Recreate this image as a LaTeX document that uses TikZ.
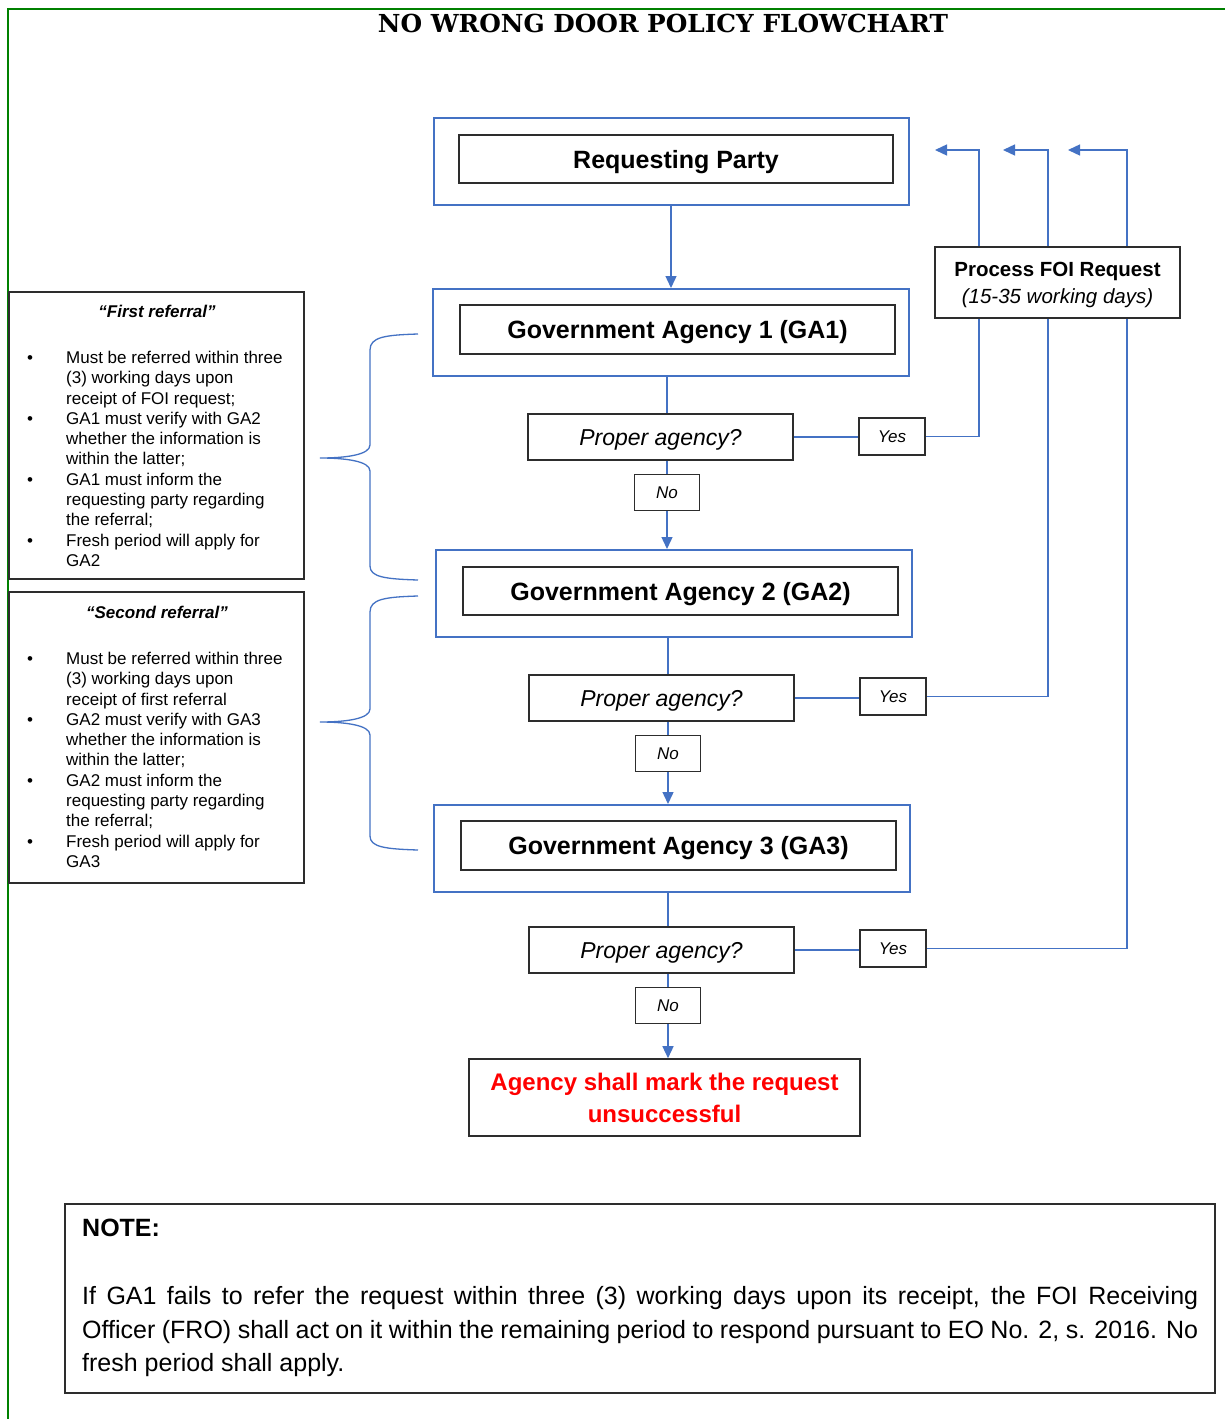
\documentclass[tikz,border=0pt]{standalone}
\usepackage{fontspec}
\usepackage{graphicx}
\setmainfont{Liberation Sans}
\newfontfamily\titlefont{DejaVu Serif}
\usetikzlibrary{arrows.meta}
\definecolor{flowblue}{RGB}{68,114,196}
\definecolor{bordergreen}{RGB}{0,128,0}
\definecolor{boxgray}{RGB}{45,45,45}
\definecolor{alertred}{RGB}{255,0,0}
\begin{document}
\begin{tikzpicture}[x=1pt,y=-1pt,
  outerbox/.style={draw=flowblue, line width=2pt, minimum width=476pt, minimum height=87pt, inner sep=0pt},
  innerbox/.style={draw=boxgray, line width=1.6pt, minimum width=435pt, minimum height=49pt, inner sep=0pt, text depth=0pt, font=\fontsize{25}{30}\selectfont\bfseries},
  askbox/.style={draw=boxgray, line width=1.5pt, minimum width=265pt, minimum height=46pt, inner sep=0pt, text depth=0pt, font=\fontsize{23}{28}\selectfont\itshape},
  tagbox/.style={draw=boxgray, line width=1.5pt, minimum width=65pt, minimum height=36pt, inner sep=0pt, font=\fontsize{17}{20}\selectfont\itshape},
  plainbox/.style={draw=boxgray, line width=1.6pt, inner sep=0pt},
  flow/.style={draw=flowblue, line width=1.4pt},
  flowarrow/.style={flow, -{Triangle[length=12pt,width=11pt]}},
  listtext/.style={anchor=north west, inner sep=0pt, align=left, font=\fontsize{17}{20.3}\selectfont},
  brace/.style={draw=flowblue, line width=1.3pt}
]
\useasboundingbox (0,0) rectangle (1225,1419);
\fill[white] (0,0) rectangle (1225,1419);
% page border
\draw[bordergreen, line width=2.2pt] (1225,9) -- (8,9) -- (8,1419);
% title
\node (title) at (663,23) {\titlefont\bfseries\resizebox{570pt}{!}{NO WRONG DOOR POLICY FLOWCHART}};

% main column
\node[outerbox, minimum width=475pt] (rpo) at (671,161.5) {};
\node[innerbox, minimum width=434pt, minimum height=48pt] (rp) at (676,159) {Requesting Party};
\node[outerbox] (ga1o) at (671,332.5) {};
\node[innerbox] (ga1) at (677.5,329.5) {Government Agency 1 (GA1)};
\node[outerbox] (ga2o) at (674,593.5) {};
\node[innerbox, minimum height=48pt] (ga2) at (680.5,591) {Government Agency 2 (GA2)};
\node[outerbox] (ga3o) at (672,848.5) {};
\node[innerbox] (ga3) at (678.5,845.5) {Government Agency 3 (GA3)};

\node[askbox] (pa1) at (660.5,437) {Proper agency?};
\node[askbox] (pa2) at (661.5,698) {Proper agency?};
\node[askbox] (pa3) at (661.5,950) {Proper agency?};

\node[tagbox] (no1) at (667,492.5) {No};
\node[tagbox] (no2) at (668,753.5) {No};
\node[tagbox] (no3) at (668,1005.5) {No};

\node[tagbox, minimum width=66pt, minimum height=37pt] (yes1) at (892,436.5) {Yes};
\node[tagbox, minimum width=66pt, minimum height=37pt] (yes2) at (893,696.5) {Yes};
\node[tagbox, minimum width=66pt, minimum height=37pt] (yes3) at (893,948.5) {Yes};

\node[plainbox, minimum width=391pt, minimum height=77pt, align=center, text=alertred,
  font=\fontsize{24}{32}\selectfont\bfseries] (fail) at (664.5,1097.5) {Agency shall mark the request\\unsuccessful};

% return coordinates
\coordinate (t1) at (979,150);
\coordinate (t2) at (1048,150);
\coordinate (t3) at (1127,150);
\coordinate (h1) at (935,150);
\coordinate (h2) at (1003,150);
\coordinate (h3) at (1068,150);

% connectors
\draw[flowarrow] (rpo.south) -- (ga1o.north -| rpo.south);
\draw[flow] (ga1o.south -| no1) -- (pa1.north -| no1);
\draw[flow] (pa1.south -| no1) -- (no1.north);
\draw[flowarrow] (no1.south) -- (ga2o.north -| no1);
\draw[flow] (ga2o.south -| no2) -- (pa2.north -| no2);
\draw[flow] (pa2.south -| no2) -- (no2.north);
\draw[flowarrow] (no2.south) -- (ga3o.north -| no2);
\draw[flow] (ga3o.south -| no3) -- (pa3.north -| no3);
\draw[flow] (pa3.south -| no3) -- (no3.north);
\draw[flowarrow] (no3.south) -- (fail.north -| no3);

\draw[flow] (pa1.east) -- (pa1.east -| yes1.west);
\draw[flow] (pa2.east) -- (pa2.east -| yes2.west);
\draw[flow] (pa3.east) -- (pa3.east -| yes3.west);
\draw[flowarrow] (yes1.east) -| (t1) -- (h1);
\draw[flowarrow] (yes2.east) -| (t2) -- (h2);
\draw[flowarrow] (yes3.east) -| (t3) -- (h3);

% process box (drawn over the return lines)
\node[plainbox, fill=white, minimum width=245pt, minimum height=71pt, align=center, text depth=0pt,
  font=\fontsize{20.5}{27}\selectfont] (proc) at (1057.5,282.5)
  {\textbf{Process FOI Request}\\\textit{(15-35 working days)}};

% left boxes
\node[plainbox, minimum width=295pt, minimum height=287pt] (ref1) at (156.5,435.5) {};
\node[plainbox, minimum width=295pt, minimum height=291pt] (ref2) at (156.5,737.5) {};
\node[font=\fontsize{17}{20}\selectfont\bfseries\itshape] (ref1t) at (157,311) {“First referral”};
\node[font=\fontsize{17}{20}\selectfont\bfseries\itshape] (ref2t) at (157,612) {“Second referral”};
\node[listtext] (ref1l) at (27,349) {\begin{tabular}{@{}p{39pt}@{}l@{}}
\textbullet & Must be referred within three\\
 & (3) working days upon\\
 & receipt of FOI request;\\
\textbullet & GA1 must verify with GA2\\
 & whether the information is\\
 & within the latter;\\
\textbullet & GA1 must inform the\\
 & requesting party regarding\\
 & the referral;\\
\textbullet & Fresh period will apply for\\
 & GA2
\end{tabular}};
\node[listtext] (ref2l) at (27,650) {\begin{tabular}{@{}p{39pt}@{}l@{}}
\textbullet & Must be referred within three\\
 & (3) working days upon\\
 & receipt of first referral\\
\textbullet & GA2 must verify with GA3\\
 & whether the information is\\
 & within the latter;\\
\textbullet & GA2 must inform the\\
 & requesting party regarding\\
 & the referral;\\
\textbullet & Fresh period will apply for\\
 & GA3
\end{tabular}};

% braces
\draw[brace] (418,334) .. controls (385,335) and (370,337) .. (370,350) -- (370,445)
  .. controls (370,455) and (345,458) .. (320,458)
  .. controls (345,458) and (370,461) .. (370,471) -- (370,566)
  .. controls (370,577) and (385,579) .. (418,580);
\draw[brace] (418,596) .. controls (385,597) and (370,599) .. (370,612) -- (370,709)
  .. controls (370,719) and (345,722) .. (320,722)
  .. controls (345,722) and (370,725) .. (370,735) -- (370,836)
  .. controls (370,847) and (385,849) .. (418,850);

% note
\node[plainbox, minimum width=1150pt, minimum height=189pt] (note) at (640,1298.5) {};
\node[anchor=west, inner sep=0pt, font=\fontsize{25}{30}\selectfont\bfseries] (notet) at (82,1228) {NOTE:};
\node[anchor=base west, inner sep=0pt, font=\fontsize{25}{30}\selectfont] (n1) at (82,1304) {\makebox[1116pt][s]{If GA1 fails to refer the request within three (3) working days upon its receipt, the FOI Receiving}};
\node[anchor=base west, inner sep=0pt, font=\fontsize{25}{30}\selectfont] (n2) at (82,1338) {\makebox[1116pt][s]{Officer (FRO) shall act on it within the remaining period to respond pursuant to EO No. 2, s. 2016. No}};
\node[anchor=base west, inner sep=0pt, font=\fontsize{25}{30}\selectfont] (n3) at (82,1371) {fresh period shall apply.};
\end{tikzpicture}
\end{document}
